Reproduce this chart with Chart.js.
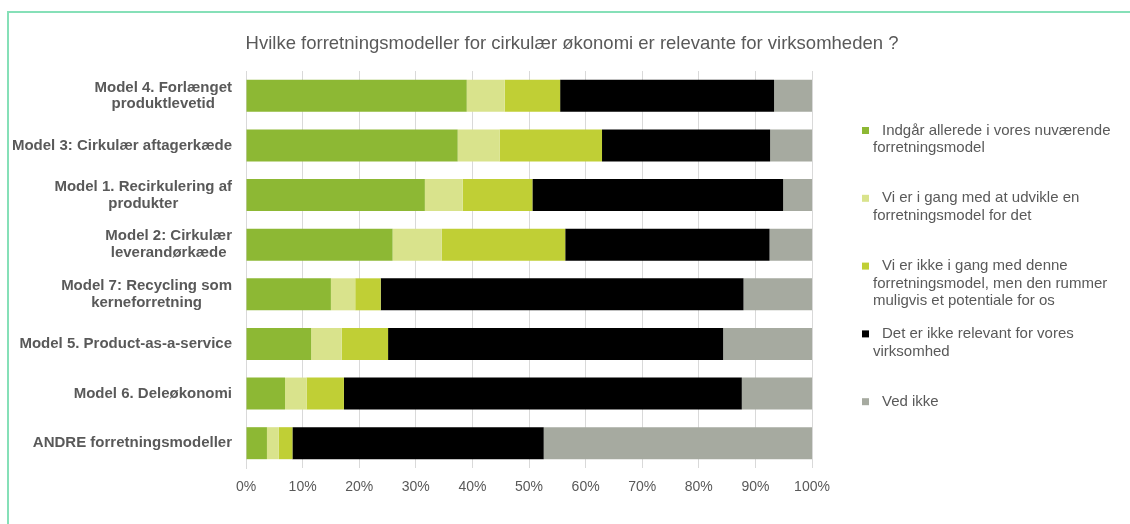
<!DOCTYPE html>
<html>
<head>
<meta charset="utf-8">
<script src="https://cdn.jsdelivr.net/npm/chart.js@4/dist/chart.umd.min.js"></script>
<style>
  html, body { margin: 0; padding: 0; background: #fff; }
  #wrap { position: relative; width: 1130px; height: 524px; }
  canvas { display: block; }
</style>
</head>
<body>
<div id="wrap"><canvas id="c" width="1130" height="524"></canvas></div>
<script>
const title = "Hvilke forretningsmodeller for cirkulær økonomi er relevante for virksomheden ?";
const categories = [
  ["Model 4. Forlænget", "produktlevetid"],
  ["Model 3: Cirkulær aftagerkæde"],
  ["Model 1. Recirkulering af", "produkter"],
  ["Model 2: Cirkulær", "leverandørkæde"],
  ["Model 7: Recycling som", "kerneforretning"],
  ["Model 5. Product-as-a-service"],
  ["Model 6. Deleøkonomi"],
  ["ANDRE forretningsmodeller"]
];
const seriesNames = [
  ["Indgår allerede i vores nuværende", "forretningsmodel"],
  ["Vi er i gang med at udvikle en", "forretningsmodel for det"],
  ["Vi er ikke i gang med denne", "forretningsmodel, men den rummer", "muligvis et potentiale for os"],
  ["Det er ikke relevant for vores", "virksomhed"],
  ["Ved ikke"]
];
const seriesColors = ["#8DB834", "#D9E38C", "#C0CF35", "#000000", "#A6AAA0"];
const indgaar   = [39.0, 37.4, 31.6, 25.9, 15.0, 11.5, 6.9, 3.7];
const iGang     = [6.7, 7.4, 6.7, 8.7, 4.3, 5.4, 3.8, 2.1];
const potentiale= [9.8, 18.1, 12.3, 21.8, 4.5, 8.2, 6.6, 2.4];
const ikkeRelevant = [37.8, 29.7, 44.3, 36.1, 64.1, 59.2, 70.3, 44.4];
const vedIkke   = [6.7, 7.4, 5.1, 7.5, 12.1, 15.7, 12.4, 47.4];
const xTicks = [0, 10, 20, 30, 40, 50, 60, 70, 80, 90, 100];

const seriesValues = [indgaar, iGang, potentiale, ikkeRelevant, vedIkke];
const TEXT = "#595959";
const FONT = "'Liberation Sans', Arial, sans-serif";

const decor = {
  id: 'decor',
  afterDraw(chart) {
    const ctx = chart.ctx;
    ctx.save();
    // frame
    ctx.strokeStyle = "#86E0B8";
    ctx.lineWidth = 2;
    ctx.beginPath();
    ctx.moveTo(8, 524);
    ctx.lineTo(8, 12);
    ctx.lineTo(1130, 12);
    ctx.stroke();
    // title
    ctx.fillStyle = TEXT;
    ctx.font = "18.5px " + FONT;
    ctx.textAlign = "center";
    ctx.textBaseline = "middle";
    ctx.fillText(title, 572, 44);
    // y labels
    const y = chart.scales.y;
    ctx.font = "bold 15px " + FONT;
    const lh = 16.8;
    categories.forEach((lines, i) => {
      const cy = y.getPixelForValue(i);
      const w = Math.max(...lines.map(l => ctx.measureText(l).width));
      const cx = 232 - w / 2;
      lines.forEach((l, j) => {
        ctx.textAlign = "center";
        ctx.fillText(l, cx, cy + (j - (lines.length - 1) / 2) * lh);
      });
    });
    // legend
    ctx.font = "15px " + FONT;
    ctx.textAlign = "left";
    const ly0 = 130.5, lstep = 67.8, llh = 17.6;
    seriesNames.forEach((lines, i) => {
      const cy = ly0 + i * lstep;
      ctx.fillStyle = seriesColors[i];
      ctx.fillRect(862, cy - 3.5, 7, 7);
      ctx.fillStyle = TEXT;
      lines.forEach((l, j) => {
        ctx.fillText(l, j === 0 ? 882 : 873, cy + j * llh);
      });
    });
    ctx.restore();
  }
};

new Chart(document.getElementById('c'), {
  type: 'bar',
  data: {
    labels: categories.map(c => c.join(' ')),
    datasets: seriesValues.map((vals, i) => ({
      label: seriesNames[i].join(' '),
      data: vals,
      backgroundColor: seriesColors[i],
      borderWidth: 0,
      barPercentage: 0.645,
      categoryPercentage: 1.0
    }))
  },
  options: {
    indexAxis: 'y',
    responsive: false,
    animation: false,
    layout: { padding: { left: 0, top: 71, right: 318, bottom: 0 } },
    plugins: { legend: { display: false }, tooltip: { enabled: false }, title: { display: false } },
    scales: {
      x: {
        stacked: true,
        min: 0, max: 100,
        afterBuildTicks(scale) { scale.ticks = xTicks.map(v => ({ value: v })); },
        afterFit(scale) { scale.height = 56; },
        grid: { color: "#D9D9D9", drawTicks: false, lineWidth: 1 },
        border: { display: false },
        ticks: {
          padding: 11,
          color: TEXT,
          font: { family: FONT, size: 14 },
          callback: v => v + "%"
        }
      },
      y: {
        stacked: true,
        afterFit(scale) { scale.width = 246; },
        grid: { display: false, drawTicks: false },
        border: { display: true, color: "#D9D9D9", width: 1 },
        ticks: { display: false }
      }
    }
  },
  plugins: [decor]
});
</script>
</body>
</html>
